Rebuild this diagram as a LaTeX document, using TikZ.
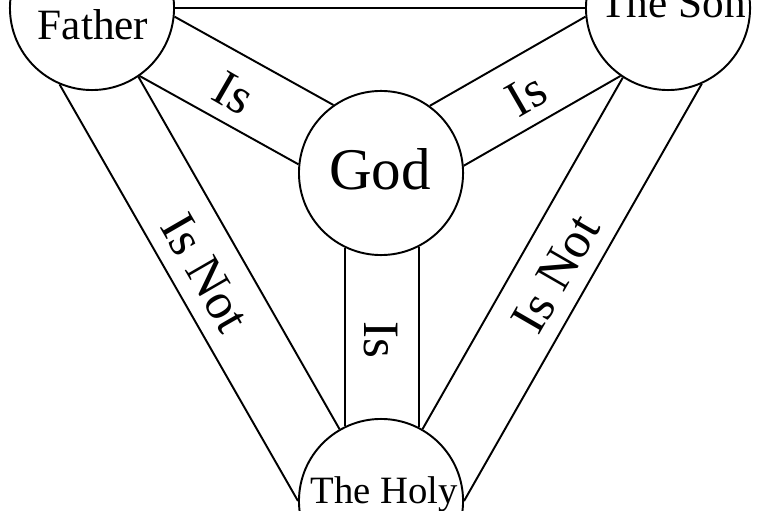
\documentclass[tikz,border=0pt]{standalone}
\usepackage{fontspec}
\setmainfont{Liberation Serif}
\begin{document}
\begin{tikzpicture}[x=0.01cm,y=-0.01cm,
		person/.style={circle,draw,line width=0.55pt,minimum size=1.64cm,inner sep=0pt},
		band/.style={line width=0.55pt},
		bandlabel/.style={font=\fontsize{14.5}{15}\selectfont,inner sep=0pt},
		who/.style={font=\fontsize{12.3}{13}\selectfont,anchor=base,inner sep=0pt}]
		\useasboundingbox (0,0) rectangle (765,510);
		\clip (0,0) rectangle (765,510);
		\node[person] (F) at (92,8) {};
		\node[person] (S) at (668,8) {};
		\node[person] (G) at (381,173) {};
		\node[person] (H) at (381,501) {};
		\node[who] (Fn) at (93,40) {Father};
		\node[who] (Sn) at (673,18) {The Son};
		\node[who,font=\fontsize{16.8}{18}\selectfont] (Gn) at (380,190) {God};
		\node[who,font=\fontsize{11}{12}\selectfont] (Hn) at (384,503) {The Holy};
		\draw[band,line width=0.8pt] (F.east) -- (S.west);
		\draw[band] (F.-6) -- (G.125.8);
		\draw[band] (F.-55) -- (G.174.5);
		\draw[band] (S.186) -- (G.54.2);
		\draw[band] (S.235) -- (G.5.5);
		\draw[band] (G.-116.4) -- (H.116.4);
		\draw[band] (G.-63.6) -- (H.63.6);
		\draw[band] (F.-113.8) -- (H.180);
		\draw[band] (F.-56.7) -- (H.120);
		\draw[band] (S.-66.2) -- (H.0);
		\draw[band] (S.-123.3) -- (H.60);
		\node[bandlabel,rotate=-30] (FG) at (234,93) {Is};
		\node[bandlabel,rotate=30] (SG) at (526,95) {Is};
		\node[bandlabel,rotate=-90] (GH) at (381,340) {Is};
		\node[bandlabel,rotate=-60] (FH) at (205,273) {Is Not};
		\node[bandlabel,rotate=60] (SH) at (556,274) {Is Not};
	\end{tikzpicture}
\end{document}
